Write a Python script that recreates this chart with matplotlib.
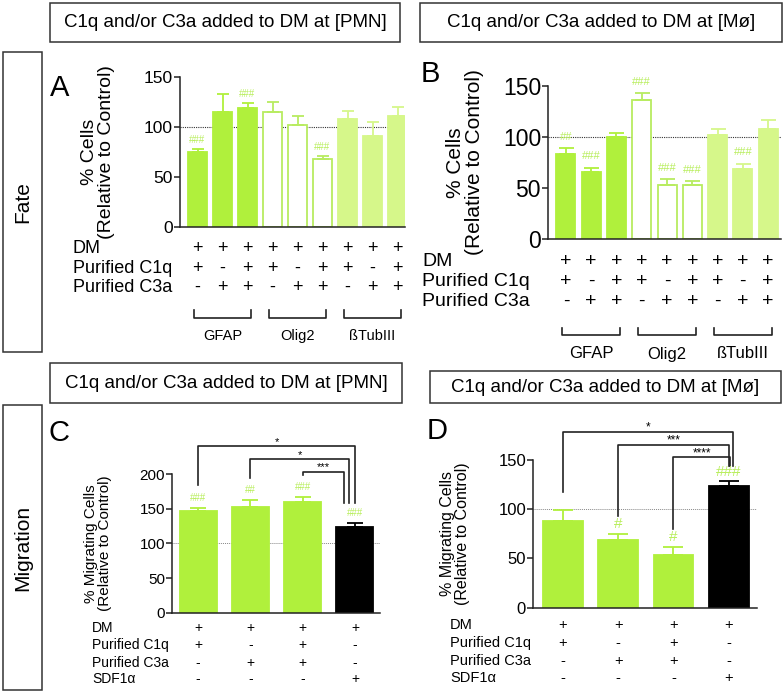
import matplotlib
matplotlib.use('Agg')
import matplotlib.pyplot as plt
from matplotlib.patches import Rectangle
from matplotlib.transforms import blended_transform_factory

plt.rcParams['font.family'] = ['Liberation Sans', 'DejaVu Sans']

# ---- data: fate (A, B) ----
fate_groups = ['GFAP', 'Olig2', 'ßTubIII']
fate_dm = ['+'] * 9
fate_c1q = ['+', '-', '+'] * 3
fate_c3a = ['-', '+', '+'] * 3

pmn_fate_mean = [75, 115, 119, 115, 102, 68, 108, 91, 111]
pmn_fate_err = [3, 18, 5, 10, 9, 3, 8, 14, 9]
pmn_fate_sig = ['###', '', '###', '', '', '###', '', '', '']

mo_fate_mean = [83, 66, 100, 136, 53, 53, 102, 69, 108]
mo_fate_err = [6, 4, 4, 7, 5.5, 4, 6, 5, 8.5]
mo_fate_sig = ['##', '###', '', '###', '###', '###', '', '###', '']

# ---- data: migration (C, D) ----
mig_dm = ['+', '+', '+', '+']
mig_c1q = ['+', '-', '+', '-']
mig_c3a = ['-', '+', '+', '-']
mig_sdf = ['-', '-', '-', '+']

pmn_mig_mean = [147, 153, 159, 123]
pmn_mig_err = [4.5, 9, 8, 6]
pmn_mig_sig = ['###', '##', '###', '###']
pmn_mig_pairs = [(0, 3, '*'), (1, 3, '*'), (2, 3, '***')]

mo_mig_mean = [88, 69, 54, 123.5]
mo_mig_err = [11, 6, 8, 5]
mo_mig_sig = ['', '#', '#', '###']
mo_mig_pairs = [(0, 3, '*'), (1, 3, '***'), (2, 3, '****')]

W, H = 784, 693
GREEN = '#b0f03c'
LIGHT = '#d6f78a'
OPEN_EDGE = '#b8ec60'
SIG = '#b8ee5c'
LINE = '#222222'

fig = plt.figure(figsize=(W / 100, H / 100), dpi=100)


def px_rect(x0, y0, x1, y1):
    return [x0 / W, 1 - y1 / H, (x1 - x0) / W, (y1 - y0) / H]


def fy(py):
    return 1 - py / H


def box(x0, y0, x1, y1, text=None, rotation=0, size=13.5):
    fig.add_artist(Rectangle((x0 / W, fy(y1)), (x1 - x0) / W, (y1 - y0) / H,
                             transform=fig.transFigure, fill=False, lw=1.1, ec='#333333'))
    if text:
        fig.text((x0 + x1) / 2 / W, fy((y0 + y1) / 2), text, ha='center', va='center',
                 rotation=rotation, fontsize=size)


def make_axes(rect, xlim, ymax, step, ticksize, ylabel, labelsize, label_x):
    ax = fig.add_axes(px_rect(*rect))
    ax.set_xlim(*xlim)
    ax.set_ylim(0, ymax)
    ax.set_yticks(range(0, ymax + 1, step))
    for s in ['top', 'right']:
        ax.spines[s].set_visible(False)
    for s in ['left', 'bottom']:
        ax.spines[s].set_linewidth(1.1)
        ax.spines[s].set_color(LINE)
    ax.tick_params(axis='x', length=0, labelbottom=False)
    ax.tick_params(axis='y', length=4, width=1.1, color=LINE, labelsize=ticksize, pad=1)
    ax.patch.set_alpha(0)
    ax.set_ylabel(ylabel, fontsize=labelsize, linespacing=1.0)
    ax.yaxis.set_label_coords((label_x - rect[0]) / (rect[2] - rect[0]), 0.5)
    return ax


def draw_bars(ax, means, errs, faces, edges, ecolors, width, capsize):
    x = list(range(len(means)))
    ax.bar(x, means, width=width, color=faces, edgecolor=edges, linewidth=1.3, zorder=2)
    for xi, m, e, c in zip(x, means, errs, ecolors):
        ax.errorbar(xi, m, yerr=[[0], [e]], fmt='none', ecolor=c, elinewidth=1.3,
                    capsize=capsize, capthick=1.3, zorder=3)


def draw_sig(ax, means, errs, sigs, size, offset):
    for xi, (m, e, s) in enumerate(zip(means, errs, sigs)):
        if s:
            ax.annotate(s, (xi, m + e), xytext=(0, offset), textcoords='offset points',
                        ha='center', va='baseline', fontsize=size, color=SIG)


def draw_rows(ax, rows, names, label_x, rows_y, size):
    tr = blended_transform_factory(ax.transData, fig.transFigure)
    for name, signs, py in zip(names, rows, rows_y):
        fig.text(label_x / W, fy(py), name, ha='left', va='center', fontsize=size)
        for xi, s in enumerate(signs):
            ax.text(xi, fy(py), s, transform=tr, ha='center', va='center', fontsize=size)


def draw_groups(ax, groups, y_top, y_bot, y_text, size):
    tr = blended_transform_factory(ax.transData, fig.transFigure)
    for g, name in enumerate(groups):
        a, b = 3 * g - 0.15, 3 * g + 2.15
        ax.plot([a, a, b, b], [fy(y_top), fy(y_bot), fy(y_bot), fy(y_top)],
                transform=tr, color=LINE, lw=1.2, clip_on=False)
        ax.text(3 * g + 1, fy(y_text), name, transform=tr, ha='center', va='center', fontsize=size)


def draw_pairs(ax, means, errs, pairs, inner, step, gap, right_bottom, shifts, size):
    tops = [m + e for m, e in zip(means, errs)]
    n = len(pairs)
    for k, (i, j, lab) in enumerate(pairs):
        level = inner + (n - 1 - k) * step
        xj = j + shifts[k]
        ax.plot([i, i, xj, xj], [tops[i] + gap, level, level, right_bottom],
                color=LINE, lw=1.2, clip_on=False)
        ax.annotate(lab, ((i + xj) / 2, level), xytext=(0, 1), textcoords='offset points',
                    ha='center', va='baseline', fontsize=size, annotation_clip=False)


fate_faces = [GREEN] * 3 + ['white'] * 3 + [LIGHT] * 3
fate_edges = [GREEN] * 3 + [OPEN_EDGE] * 3 + [LIGHT] * 3
fate_ecol = [GREEN] * 3 + [OPEN_EDGE] * 3 + [LIGHT] * 3
fate_names = ['DM', 'Purified C1q', 'Purified C3a']
mig_names = ['DM', 'Purified C1q', 'Purified C3a', 'SDF1α']
mig_faces = [GREEN, GREEN, GREEN, 'black']

# ---- side labels and headers ----
box(3, 52, 42, 352, 'Fate', rotation=90, size=15)
box(3, 405, 42, 690, 'Migration', rotation=90, size=15)
box(50, 3, 400, 42, 'C1q and/or C3a added to DM at [PMN]')
box(420, 3, 782, 42, 'C1q and/or C3a added to DM at [Mø]')
box(50, 363, 402, 403, 'C1q and/or C3a added to DM at [PMN]')
box(430, 371, 781, 403, 'C1q and/or C3a added to DM at [Mø]')

for letter, x, y in [('A', 50, 88), ('B', 421, 74), ('C', 48, 433), ('D', 427, 431)]:
    fig.text(x / W, fy(y), letter, ha='left', va='center', fontsize=21)

# ---- A ----
axA = make_axes((180, 77, 405, 227), (-0.7, 8.3), 150, 50, 12.5,
                '% Cells\n(Relative to Control)', 14, 115)
axA.axhline(100, ls=(0, (1, 1)), color='#333333', lw=0.8, zorder=1)
draw_bars(axA, pmn_fate_mean, pmn_fate_err, fate_faces, fate_edges, fate_ecol, 0.76, 4)
draw_sig(axA, pmn_fate_mean, pmn_fate_err, pmn_fate_sig, 7, 4.5)
draw_rows(axA, [fate_dm, fate_c1q, fate_c3a], fate_names, 73, [249, 268, 287], 13)
draw_groups(axA, fate_groups, 310, 318, 336, 10.5)

# ---- B ----
axB = make_axes((548, 86, 781, 239), (-0.71, 8.51), 150, 50, 16.5,
                '% Cells\n(Relative to Control)', 15, 484)
axB.axhline(100, ls=(0, (1, 1)), color='#333333', lw=0.8, zorder=1)
draw_bars(axB, mo_fate_mean, mo_fate_err, fate_faces, fate_edges, fate_ecol, 0.75, 5.4)
draw_sig(axB, mo_fate_mean, mo_fate_err, mo_fate_sig, 8, 6)
draw_rows(axB, [fate_dm, fate_c1q, fate_c3a], fate_names, 422, [262, 281.5, 301], 14)
draw_groups(axB, fate_groups, 328, 335, 354, 12)

# ---- C ----
axC = make_axes((172, 474, 380, 612.7), (-0.5, 3.48), 200, 50, 11,
                '% Migrating Cells\n(Relative to Control)', 11, 112)
axC.axhline(100, ls=(0, (1, 1)), color='#888888', lw=0.7, zorder=1)
draw_bars(axC, pmn_mig_mean, pmn_mig_err, mig_faces, mig_faces, mig_faces, 0.71, 5.6)
draw_sig(axC, pmn_mig_mean, pmn_mig_err, pmn_mig_sig, 7, 5)
draw_pairs(axC, pmn_mig_mean, pmn_mig_err, pmn_mig_pairs, 203, 18.5, 32, 158,
           [0.0, -0.11, -0.21], 8)
draw_rows(axC, [mig_dm, mig_c1q, mig_c3a, mig_sdf], mig_names, 92,
          [628, 645, 663, 679], 10)

# ---- D ----
axD = make_axes((533, 460, 757, 607.7), (-0.54, 3.51), 150, 50, 12,
                '% Migrating Cells\n(Relative to Control)', 11.5, 470)
axD.axhline(100, ls=(0, (1, 1)), color='#888888', lw=0.7, zorder=1)
draw_bars(axD, mo_mig_mean, mo_mig_err, mig_faces, mig_faces, mig_faces, 0.72, 7)
draw_sig(axD, mo_mig_mean, mo_mig_err, mo_mig_sig, 11, 4)
draw_pairs(axD, mo_mig_mean, mo_mig_err, mo_mig_pairs, 152.6, 13, 18, 144,
           [0.07, 0.0, 0.03], 8.5)
draw_rows(axD, [mig_dm, mig_c1q, mig_c3a, mig_sdf], mig_names, 450,
          [625, 643, 661, 678], 10.5)

fig.savefig('out.png', dpi=100)
